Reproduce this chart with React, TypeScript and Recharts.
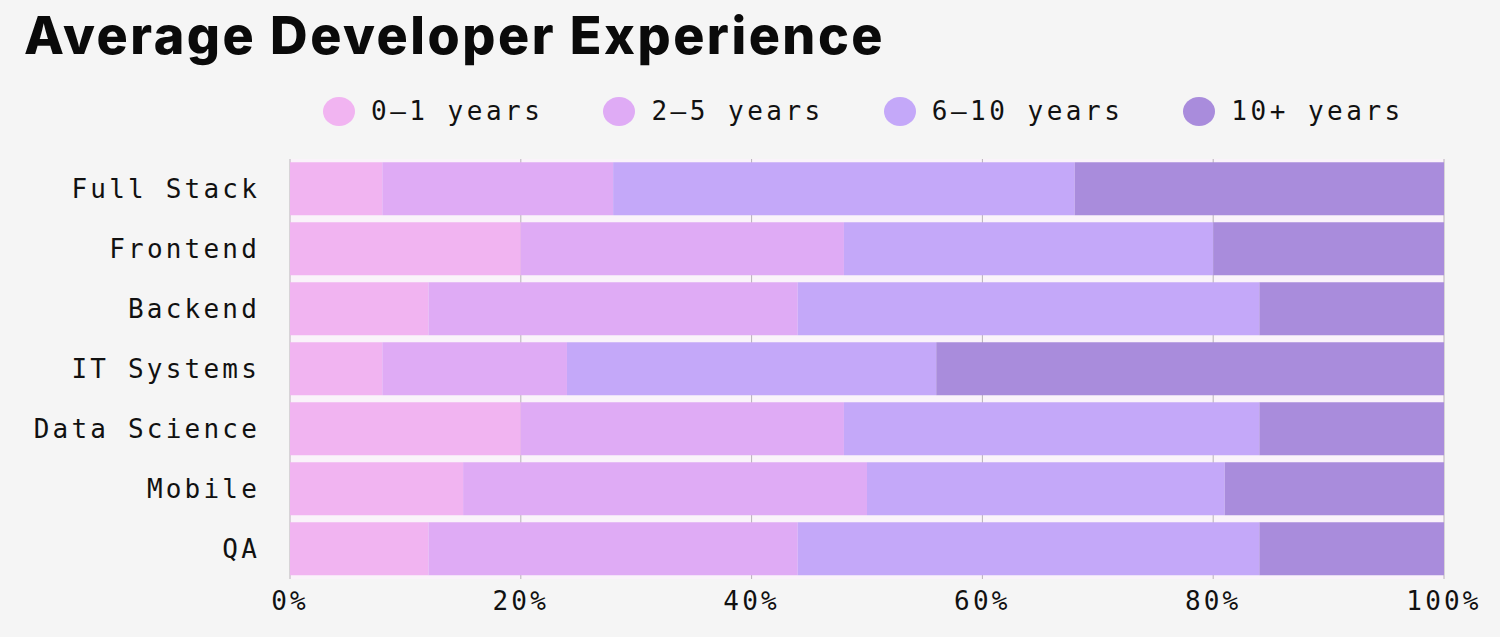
import { Bar, BarChart, CartesianGrid, XAxis, YAxis } from "recharts";

const roles = ["Full Stack", "Frontend", "Backend", "IT Systems", "Data Science", "Mobile", "QA"];
const junior = [8, 20, 12, 8, 20, 15, 12];
const mid = [20, 28, 32, 16, 28, 35, 32];
const senior = [40, 32, 40, 32, 36, 31, 40];
const veteran = [32, 20, 16, 44, 16, 19, 16];
const xTicks = [0, 20, 40, 60, 80, 100];

const series = [
  { key: "junior", name: "0–1 years", color: "#f1b4f1" },
  { key: "mid", name: "2–5 years", color: "#dfabf5" },
  { key: "senior", name: "6–10 years", color: "#c4a8f9" },
  { key: "veteran", name: "10+ years", color: "#a98cdc" },
];

const data = roles.map((role, i) => ({
  role,
  junior: junior[i],
  mid: mid[i],
  senior: senior[i],
  veteran: veteran[i],
}));

const mono = "'DejaVu Sans Mono', 'Liberation Mono', monospace";
const tickStyle = { fill: "#111", fontSize: 26, fontFamily: mono, letterSpacing: 3.2 };

function LegendRow() {
  return (
    <div
      style={{
        position: "absolute",
        left: 323,
        top: 95,
        display: "flex",
        alignItems: "center",
        fontFamily: mono,
        fontSize: 26,
        letterSpacing: 3.5,
        color: "#111",
        height: 32,
      }}
    >
      {series.map((s, i) => (
        <span key={s.key} style={{ display: "flex", alignItems: "center", marginLeft: i === 0 ? 0 : 60 }}>
          <span style={{ display: "inline-block", width: 32, height: 29, borderRadius: "50%", background: s.color, marginRight: 16 }} />
          <span>{s.name}</span>
        </span>
      ))}
    </div>
  );
}

export default function App() {
  return (
    <div style={{ position: "absolute", left: 0, top: 0, width: 1500, height: 637, background: "#f5f5f5", overflow: "hidden" }}>
      <div
        style={{
          position: "absolute",
          left: 24,
          top: 4,
          fontFamily: "Inter, 'Noto Sans', sans-serif",
          fontWeight: 800,
          fontSize: 52,
          letterSpacing: 2.5,
          color: "#0a0a0a",
          whiteSpace: "nowrap",
        }}
      >
        Average Developer Experience
      </div>
      <LegendRow />
      <div style={{ position: "absolute", left: 0, top: 0 }}>
        <BarChart
          width={1500}
          height={637}
          data={data}
          layout="vertical"
          margin={{ top: 159, right: 56, bottom: 28, left: 0 }}
          barCategoryGap="5.5%"
        >
          <CartesianGrid horizontal={false} stroke="#b9b2b9" fill="#faf3fa" />
          <XAxis
            type="number"
            domain={[0, 100]}
            ticks={xTicks}
            tickFormatter={(v: number) => `${v}%`}
            axisLine={false}
            tickLine={false}
            tickMargin={7}
            tick={tickStyle}
          />
          <YAxis
            type="category"
            dataKey="role"
            width={290}
            axisLine={false}
            tickLine={false}
            tickMargin={24}
            tick={tickStyle}
          />
          {series.map((s) => (
            <Bar key={s.key} dataKey={s.key} name={s.name} stackId="a" fill={s.color} isAnimationActive={false} />
          ))}
        </BarChart>
      </div>
    </div>
  );
}
